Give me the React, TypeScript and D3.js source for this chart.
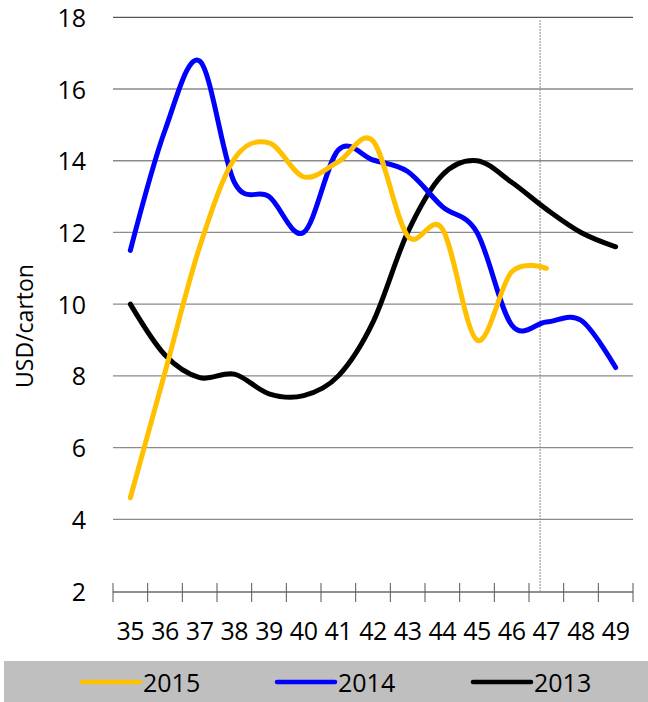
import React from "react";
import * as d3 from "d3";

const weeks = [35, 36, 37, 38, 39, 40, 41, 42, 43, 44, 45, 46, 47, 48, 49];
const values2015 = [4.6, 8.1, 11.6, 14.05, 14.5, 13.55, 13.97, 14.55, 11.9, 12.1, 9.0, 10.9, 11.0];
const values2014 = [11.5, 14.85, 16.78, 13.4, 13.0, 12.0, 14.3, 14.02, 13.7, 12.72, 12.0, 9.42, 9.5, 9.55, 8.23];
const values2013 = [10.0, 8.58, 7.95, 8.05, 7.5, 7.45, 8.0, 9.5, 12.0, 13.6, 14.0, 13.4, 12.65, 12.0, 11.6];
const yTicks = [2, 4, 6, 8, 10, 12, 14, 16, 18];
const markerWeek = 46.82;

const seriesList = [
  { name: "2015", values: values2015, color: "#FFC000" },
  { name: "2014", values: values2014, color: "#0000FF" },
  { name: "2013", values: values2013, color: "#000000" },
];

const W = 648;
const H = 702;
const left = 113;
const right = 633;
const top = 17.3;
const bottom = 591;
const font = "'Open Sans', 'Noto Sans', sans-serif";

export default function App() {
  const x = d3.scaleLinear().domain([34.5, 49.5]).range([left, right]);
  const y = d3.scaleLinear().domain([2, 18]).range([bottom, top]);
  const line = d3
    .line<number>()
    .x((_, i) => x(weeks[i]))
    .y((d) => y(d))
    .curve(d3.curveCardinal.tension(0));
  const boundaries = d3.range(34.5, 50, 1);

  const legendX = [82, 277, 473];

  return (
    <svg
      width={W}
      height={H}
      style={{ position: "absolute", left: 0, top: 0, background: "#fff" }}
      fontFamily={font}
    >
      {yTicks.filter((t) => t > 2).map((t) => (
        <line
          key={t}
          x1={left}
          x2={right}
          y1={y(t)}
          y2={y(t)}
          stroke={t === 18 ? "#555" : "#8a8a8a"}
          strokeWidth={1.3}
        />
      ))}
      {yTicks.map((t) => (
        <text key={"l" + t} x={86} y={y(t) + 9.5} textAnchor="end" fontSize={25} fill="#000">
          {t}
        </text>
      ))}
      <line
        x1={x(markerWeek)}
        x2={x(markerWeek)}
        y1={20}
        y2={bottom}
        stroke="#888"
        strokeWidth={1}
        strokeDasharray="2,1"
      />
      <line x1={left} x2={right} y1={bottom + 1} y2={bottom + 1} stroke="#222" strokeWidth={1.2} />
      {boundaries.map((b) => (
        <line key={b} x1={x(b)} x2={x(b)} y1={583} y2={602} stroke="#555" strokeWidth={1} />
      ))}
      {weeks.map((w) => (
        <text key={"w" + w} x={x(w)} y={639.5} textAnchor="middle" fontSize={25} letterSpacing={-0.5} fill="#000">
          {w}
        </text>
      ))}
      <text
        transform={`translate(33,326) rotate(-90)`}
        textAnchor="middle"
        fontSize={23}
        fill="#000"
      >
        USD/carton
      </text>
      {seriesList
        .slice()
        .reverse()
        .map((s) => (
          <path
            key={s.name}
            d={line(s.values) || ""}
            fill="none"
            stroke={s.color}
            strokeWidth={5}
            strokeLinecap="round"
            strokeLinejoin="round"
          />
        ))}
      <rect x={4} y={661} width={W - 4} height={H - 661} fill="#bfbfbf" />
      {seriesList.map((s, i) => (
        <g key={"lg" + s.name}>
          <line
            x1={legendX[i]}
            x2={legendX[i] + 58}
            y1={682}
            y2={682}
            stroke={s.color}
            strokeWidth={4.5}
            strokeLinecap="round"
          />
          <text x={legendX[i] + 61} y={691.5} fontSize={25} fill="#000">
            {s.name}
          </text>
        </g>
      ))}
    </svg>
  );
}
